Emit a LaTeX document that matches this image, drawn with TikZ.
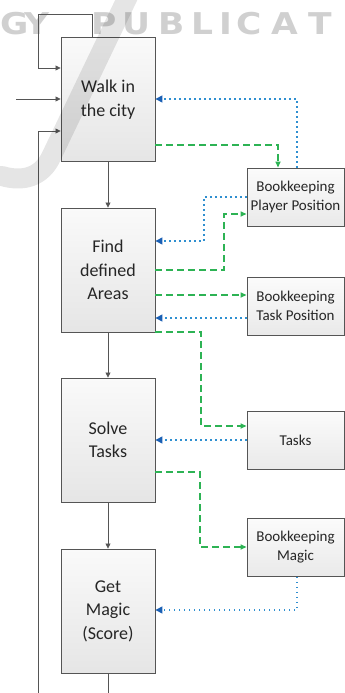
\documentclass[tikz,border=0pt]{standalone}
\usepackage{fontspec}
\setmainfont{Carlito}
\newfontfamily\wmfont{DejaVu Sans}
\usetikzlibrary{arrows.meta}
\definecolor{bord}{HTML}{555555}
\definecolor{txt}{HTML}{262626}
\definecolor{dotblue}{HTML}{2F8FD0}
\definecolor{tipblue}{HTML}{1A5FB4}
\definecolor{dashgreen}{HTML}{2DB354}
\definecolor{wmgray}{HTML}{D0D0D0}
\tikzset{
  mainbox/.style={draw=bord, line width=0.9pt, top color=gray!4, bottom color=gray!20,
    minimum width=94pt, minimum height=124pt, inner sep=0pt, align=center,
    font=\fontsize{18}{23.5}\selectfont, text=txt},
  sidebox/.style={draw=bord, line width=0.9pt, top color=gray!3, bottom color=gray!17,
    minimum width=97pt, minimum height=58pt, inner sep=0pt, align=center,
    font=\fontsize{15}{19}\selectfont, text=txt},
  flow/.style={draw=bord, line width=0.8pt, -{Triangle[length=5pt,width=5pt]}},
  plain/.style={draw=bord, line width=0.8pt},
  readln/.style={draw=dotblue, line width=1.4pt, dash pattern=on 1.4pt off 3.6pt,
    -{Triangle[length=7pt,width=7pt,color=tipblue]}},
  writeln/.style={draw=dashgreen, line width=1.5pt, dash pattern=on 7pt off 4pt,
    -{Triangle[length=6pt,width=5pt]}},
  wmletter/.style={text=wmgray, font=\fontsize{30}{30}\selectfont\wmfont\bfseries,
    inner sep=0pt, anchor=base west, xscale=1.15},
}
\begin{document}
\begin{tikzpicture}[x=1pt, y=-1pt]
\useasboundingbox (0,0) rectangle (345,693);
% watermark text
\foreach \l/\xx [count=\i] in {G/0, Y/24, P/91, U/122, B/158, L/191, I/219, C/236, A/271, T/308}
  \node[wmletter] (wm\i) at (\xx,35) {\l};
% main boxes
\node[mainbox] (walk)  at (108,99.5) {Walk in\\the city};
\node[mainbox] (find)  at (108,270) {Find\\defined\\Areas};
\node[mainbox] (solve) at (108,440) {Solve\\Tasks};
\node[mainbox] (magic) at (108,611) {Get\\Magic\\(Score)};
% side boxes
\node[sidebox] (bpp)   at (295.5,197) {Bookkeeping\\Player Position};
\node[sidebox] (btp)   at (295.5,306) {Bookkeeping\\Task Position};
\node[sidebox] (tasks) at (295.5,440.5) {Tasks};
\node[sidebox] (bm)    at (295.5,547.5) {Bookkeeping\\Magic};
% free ends
\coordinate (inleft) at (16,99);
\coordinate (loopbot) at (38,693);
\coordinate (outbot) at (108,693);
% black flow
\draw[flow] (walk.north -| 92,0) |- (38,14) |- (walk.west |- 0,68);
\draw[flow] (inleft) -- (walk.west |- inleft);
\draw[flow] (loopbot) |- (walk.west |- 0,131);
\draw[flow] (walk) -- (find);
\draw[flow] (find) -- (solve);
\draw[flow] (solve) -- (magic);
\draw[plain] (magic.south) -- (outbot);
% blue reads
\draw[readln] (bpp.north -| 297,0) |- (walk.east |- 0,99);
\draw[readln] (bpp.west |- 0,197) -| (204,241) -- (find.east |- 0,241);
\draw[readln] (btp.west |- 0,318) -- (find.east |- 0,318);
\draw[readln] (tasks.west |- 0,440) -- (solve.east |- 0,440);
\draw[readln] (bm.south -| 297,0) |- (magic.east |- 0,610);
% green writes
\draw[writeln] (walk.east |- 0,145) -| (bpp.north -| 278,0);
\draw[writeln] (find.east |- 0,270) -| (224,214) -- (bpp.west |- 0,214);
\draw[writeln] (find.east |- 0,295) -- (btp.west |- 0,295);
\draw[writeln] (find.east |- 0,332) -| (201,426) -- (tasks.west |- 0,426);
\draw[writeln] (solve.east |- 0,472) -| (200,547) -- (bm.west |- 0,547);
% watermark swoosh
\draw[black, opacity=0.10, line width=20pt, line cap=round]
  (132,-12) -- (52,155) .. controls (42,178) and (22,182) .. (2,176);
\end{tikzpicture}
\end{document}
